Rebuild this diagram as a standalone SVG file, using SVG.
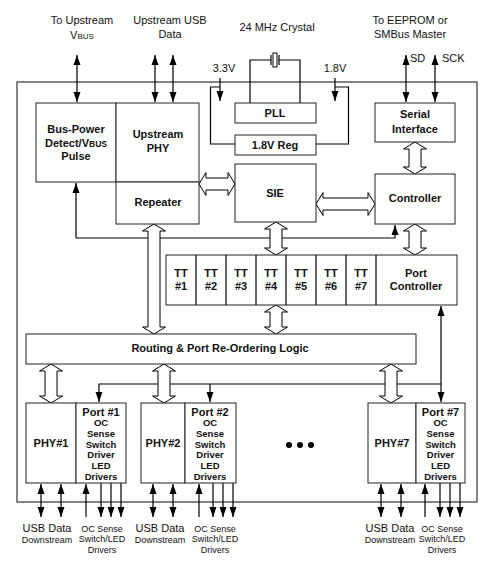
<svg xmlns="http://www.w3.org/2000/svg" width="493" height="561" viewBox="0 0 493 561">
<defs>
<marker id="ah" markerUnits="userSpaceOnUse" markerWidth="10" markerHeight="8" refX="10" refY="4" orient="auto-start-reverse" viewBox="0 0 10 8">
<path d="M0,0.5 L10,4 L0,7.5 Z" fill="#000"/>
</marker>
<style>
.box{fill:#fff;stroke:#222;stroke-width:1}
.outer{fill:#fff;stroke:#333;stroke-width:1.2}
.w{fill:none;stroke:#000;stroke-width:1.2}
.a{fill:none;stroke:#000;stroke-width:1.2;marker-end:url(#ah)}
.aa{fill:none;stroke:#000;stroke-width:1.2;marker-start:url(#ah);marker-end:url(#ah)}
.fat{fill:#fff;stroke:#000;stroke-width:1}
.b{font-family:"Liberation Sans",Arial,sans-serif;font-weight:bold;font-size:11px;fill:#111;text-anchor:middle}
.bs{font-family:"Liberation Sans",Arial,sans-serif;font-weight:bold;font-size:9.5px;fill:#111;text-anchor:middle}
.t{font-family:"Liberation Sans",Arial,sans-serif;font-size:11px;fill:#111;text-anchor:middle}
.ts{font-family:"Liberation Sans",Arial,sans-serif;font-size:9px;fill:#111;text-anchor:middle}
.tl{font-family:"Liberation Sans",Arial,sans-serif;font-size:11px;fill:#111}
</style>
</defs>
<rect width="493" height="561" fill="#fff"/>
<rect class="outer" x="17" y="82" width="460" height="420"/>

<g id="labels">
<text class="t" x="82" y="24">To Upstream</text>
<text class="t" x="82" y="39">V<tspan font-size="8">BUS</tspan></text>
<text class="t" x="170" y="24">Upstream USB</text>
<text class="t" x="170" y="38">Data</text>
<text class="t" x="277" y="31">24 MHz Crystal</text>
<text class="t" x="410" y="24">To EEPROM or</text>
<text class="t" x="410" y="38">SMBus Master</text>
<text class="tl" x="410" y="62">SD</text>
<text class="tl" x="442" y="62">SCK</text>
<text class="t" x="224" y="72">3.3V</text>
<text class="t" x="335" y="72">1.8V</text>
<text class="t" x="47" y="532" font-size="10.5">USB Data</text>
<text class="ts" x="47" y="543">Downstream</text>
<text class="ts" x="102" y="532" font-size="9.5">OC Sense</text>
<text class="ts" x="102" y="542">Switch/LED</text>
<text class="ts" x="102" y="553">Drivers</text>
<text class="t" x="160" y="532" font-size="10.5">USB Data</text>
<text class="ts" x="160" y="543">Downstream</text>
<text class="ts" x="215" y="532" font-size="9.5">OC Sense</text>
<text class="ts" x="215" y="542">Switch/LED</text>
<text class="ts" x="215" y="553">Drivers</text>
<text class="t" x="390" y="532" font-size="10.5">USB Data</text>
<text class="ts" x="390" y="543">Downstream</text>
<text class="ts" x="442" y="532" font-size="9.5">OC Sense</text>
<text class="ts" x="442" y="542">Switch/LED</text>
<text class="ts" x="442" y="553">Drivers</text>
</g>

<g id="connectors">
<line class="aa" x1="77" y1="55" x2="77" y2="102"/>
<line class="aa" x1="155" y1="55" x2="155" y2="102"/>
<line class="aa" x1="173" y1="55" x2="173" y2="102"/>
<line class="aa" x1="406" y1="55" x2="406" y2="102"/>
<line class="aa" x1="435" y1="55" x2="435" y2="102"/>
<line class="a" x1="220" y1="78" x2="220" y2="101"/>
<polyline class="w" points="220,87 210.5,87 210.5,144 235,144"/>
<line class="a" x1="335" y1="78" x2="335" y2="101"/>
<polyline class="w" points="335,87 348.5,87 348.5,144 316,144"/>
<polyline class="w" points="250,103 250,60 271,60"/>
<polyline class="w" points="279,60 300,60 300,103"/>
<line class="w" x1="271" y1="55" x2="271" y2="65"/>
<line class="w" x1="279" y1="55" x2="279" y2="65"/>
<rect x="273" y="53" width="4" height="14" fill="#fff" stroke="#000" stroke-width="1"/>
<line class="a" x1="76" y1="238" x2="76" y2="183"/>
<polyline class="a" points="76,238 395,238 395,225"/>
<line class="aa" x1="441" y1="306" x2="441" y2="402"/>
<polyline class="a" points="441,384 99,384 99,402"/>
<line class="a" x1="210" y1="384" x2="210" y2="402"/>
<line class="aa" x1="41" y1="484" x2="41" y2="517"/>
<line class="aa" x1="61" y1="484" x2="61" y2="517"/>
<line class="a" x1="86" y1="517" x2="86" y2="484"/>
<line class="a" x1="101" y1="483" x2="101" y2="517"/>
<line class="a" x1="111" y1="483" x2="111" y2="517"/>
<line class="a" x1="121" y1="483" x2="121" y2="517"/>
<line class="aa" x1="153" y1="484" x2="153" y2="517"/>
<line class="aa" x1="173" y1="484" x2="173" y2="517"/>
<line class="a" x1="199" y1="517" x2="199" y2="484"/>
<line class="a" x1="213" y1="483" x2="213" y2="517"/>
<line class="a" x1="223" y1="483" x2="223" y2="517"/>
<line class="a" x1="233" y1="483" x2="233" y2="517"/>
<line class="aa" x1="381" y1="484" x2="381" y2="517"/>
<line class="aa" x1="401" y1="484" x2="401" y2="517"/>
<line class="a" x1="425" y1="517" x2="425" y2="484"/>
<line class="a" x1="440" y1="483" x2="440" y2="517"/>
<line class="a" x1="450" y1="483" x2="450" y2="517"/>
<line class="a" x1="460" y1="483" x2="460" y2="517"/>
<path class="fat" d="M415,142 L426.5,149 L421,149 L421,167 L426.5,167 L415,174 L403.5,167 L409,167 L409,149 L403.5,149 Z"/>
<path class="fat" d="M415,224 L426.5,231 L421,231 L421,248 L426.5,248 L415,255 L403.5,248 L409,248 L409,231 L403.5,231 Z"/>
<path class="fat" d="M276,222 L287.5,229 L282,229 L282,248 L287.5,248 L276,255 L264.5,248 L270,248 L270,229 L264.5,229 Z"/>
<path class="fat" d="M276,305 L287.5,312 L282,312 L282,327 L287.5,327 L276,334 L264.5,327 L270,327 L270,312 L264.5,312 Z"/>
<path class="fat" d="M154,224 L165.5,231 L160,231 L160,327 L165.5,327 L154,334 L142.5,327 L148,327 L148,231 L142.5,231 Z"/>
<path class="fat" d="M51,364 L62.5,371 L57,371 L57,396 L62.5,396 L51,403 L39.5,396 L45,396 L45,371 L39.5,371 Z"/>
<path class="fat" d="M164,364 L175.5,371 L170,371 L170,396 L175.5,396 L164,403 L152.5,396 L158,396 L158,371 L152.5,371 Z"/>
<path class="fat" d="M391,364 L402.5,371 L397,371 L397,396 L402.5,396 L391,403 L379.5,396 L385,396 L385,371 L379.5,371 Z"/>
<path class="fat" d="M199,184 L206,172.5 L206,178 L228,178 L228,172.5 L235,184 L228,195.5 L228,190 L206,190 L206,195.5 Z"/>
<path class="fat" d="M316,204 L323,192.5 L323,198 L368,198 L368,192.5 L375,204 L368,215.5 L368,210 L323,210 L323,215.5 Z"/>
</g>

<g id="buspower">
<rect class="box" x="36" y="103" width="80" height="79"/>
<text class="b" x="76" y="133">Bus-Power</text>
<text class="b" x="76" y="147">Detect/V<tspan font-size="8.5">BUS</tspan></text>
<text class="b" x="76" y="160">Pulse</text>
</g>
<g id="upstreamphy">
<rect class="box" x="116" y="103" width="83" height="79"/>
<text class="b" x="158" y="138">Upstream</text>
<text class="b" x="158" y="152">PHY</text>
</g>
<g id="repeater">
<rect class="box" x="116" y="182" width="83" height="42"/>
<text class="b" x="158" y="206">Repeater</text>
</g>
<g id="pll">
<rect class="box" x="235" y="103" width="81" height="20"/>
<text class="b" x="275" y="117">PLL</text>
</g>
<g id="reg">
<rect class="box" x="235" y="135" width="81" height="20"/>
<text class="b" x="275" y="149">1.8V Reg</text>
</g>
<g id="sie">
<rect class="box" x="235" y="164" width="81" height="58"/>
<text class="b" x="275" y="197">SIE</text>
</g>
<g id="serial">
<rect class="box" x="375" y="103" width="80" height="39"/>
<text class="b" x="415" y="118">Serial</text>
<text class="b" x="415" y="133">Interface</text>
</g>
<g id="controller">
<rect class="box" x="375" y="174" width="80" height="50"/>
<text class="b" x="415" y="202">Controller</text>
</g>
<g id="tt">
<rect class="box" x="166" y="255" width="291" height="50"/>
<line class="w" x1="196" y1="255" x2="196" y2="305" stroke-width="1"/>
<line class="w" x1="226" y1="255" x2="226" y2="305" stroke-width="1"/>
<line class="w" x1="256" y1="255" x2="256" y2="305" stroke-width="1"/>
<line class="w" x1="286" y1="255" x2="286" y2="305" stroke-width="1"/>
<line class="w" x1="316" y1="255" x2="316" y2="305" stroke-width="1"/>
<line class="w" x1="346" y1="255" x2="346" y2="305" stroke-width="1"/>
<line class="w" x1="376" y1="255" x2="376" y2="305" stroke-width="1"/>
<text class="b" x="181" y="277">TT</text><text class="b" x="181" y="290">#1</text>
<text class="b" x="211" y="277">TT</text><text class="b" x="211" y="290">#2</text>
<text class="b" x="241" y="277">TT</text><text class="b" x="241" y="290">#3</text>
<text class="b" x="271" y="277">TT</text><text class="b" x="271" y="290">#4</text>
<text class="b" x="301" y="277">TT</text><text class="b" x="301" y="290">#5</text>
<text class="b" x="331" y="277">TT</text><text class="b" x="331" y="290">#6</text>
<text class="b" x="361" y="277">TT</text><text class="b" x="361" y="290">#7</text>
<text class="b" x="416" y="277">Port</text>
<text class="b" x="416" y="290">Controller</text>
</g>
<g id="routing">
<rect class="box" x="26" y="334" width="390" height="30"/>
<text class="b" x="220" y="352">Routing &amp; Port Re-Ordering Logic</text>
</g>
<g id="port1">
<rect class="box" x="26" y="403" width="50" height="80"/>
<rect class="box" x="76" y="403" width="50" height="80"/>
<text class="b" x="51" y="447">PHY#1</text>
<text class="b" x="101" y="416">Port #1</text>
<text class="bs" x="101" y="426">OC</text>
<text class="bs" x="101" y="437">Sense</text>
<text class="bs" x="101" y="448">Switch</text>
<text class="bs" x="101" y="458">Driver</text>
<text class="bs" x="101" y="469">LED</text>
<text class="bs" x="101" y="480">Drivers</text>
</g>
<g id="port2">
<rect class="box" x="141" y="403" width="44" height="80"/>
<rect class="box" x="185" y="403" width="51" height="80"/>
<text class="b" x="163" y="447">PHY#2</text>
<text class="b" x="210" y="416">Port #2</text>
<text class="bs" x="210" y="426">OC</text>
<text class="bs" x="210" y="437">Sense</text>
<text class="bs" x="210" y="448">Switch</text>
<text class="bs" x="210" y="458">Driver</text>
<text class="bs" x="210" y="469">LED</text>
<text class="bs" x="210" y="480">Drivers</text>
</g>
<g id="dots">
<circle cx="289" cy="445" r="3" fill="#000"/>
<circle cx="300" cy="445" r="3" fill="#000"/>
<circle cx="311" cy="445" r="3" fill="#000"/>
</g>
<g id="port7">
<rect class="box" x="368" y="403" width="48" height="80"/>
<rect class="box" x="416" y="403" width="49" height="80"/>
<text class="b" x="392" y="447">PHY#7</text>
<text class="b" x="440.5" y="416">Port #7</text>
<text class="bs" x="440.5" y="426">OC</text>
<text class="bs" x="440.5" y="437">Sense</text>
<text class="bs" x="440.5" y="448">Switch</text>
<text class="bs" x="440.5" y="458">Driver</text>
<text class="bs" x="440.5" y="469">LED</text>
<text class="bs" x="440.5" y="480">Drivers</text>
</g>
</svg>
